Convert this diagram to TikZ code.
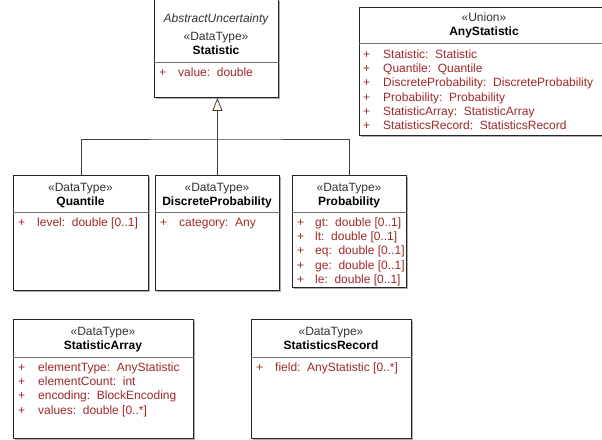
\documentclass[tikz,border=0pt]{standalone}
\usepackage{fontspec}
\setmainfont{Liberation Sans}
\usetikzlibrary{arrows.meta,shadows}

\definecolor{attrred}{RGB}{160,40,40}
\definecolor{genfill}{RGB}{255,248,228}

\begin{document}
\begin{tikzpicture}[x=1pt, y=-1pt,
        font=\fontsize{12}{14.3}\selectfont,
        classbox/.style={draw=black!85, line width=0.8pt, fill=white, anchor=north west, inner sep=0pt,
            drop shadow={shadow xshift=2pt, shadow yshift=-2pt, fill=black!40, opacity=0.8}},
        header/.style={anchor=north, inner sep=0pt, text=black!80},
        attrs/.style={anchor=north west, inner sep=0pt, text=attrred},
        divider/.style={draw=black!55, line width=0.8pt},
        assoc/.style={draw=black!75, line width=0.8pt},
        gen/.style={assoc, -{Triangle[width=10pt, length=13pt, fill=genfill]}}]

        \useasboundingbox (0,0) rectangle (602,439);

        % class boxes
        \node[classbox, minimum width=124pt, minimum height=98pt] (stat) at (154,-1) {};
        \node[classbox, minimum width=250pt, minimum height=128pt] (anyStat) at (359,7) {};
        \node[classbox, minimum width=135pt, minimum height=115pt] (quantile) at (13,175) {};
        \node[classbox, minimum width=124pt, minimum height=115pt] (discrete) at (155,175) {};
        \node[classbox, minimum width=114pt, minimum height=112pt] (prob) at (292,175) {};
        \node[classbox, minimum width=180pt, minimum height=119pt] (statArray) at (13,319) {};
        \node[classbox, minimum width=160pt, minimum height=119pt] (statRecord) at (251,319) {};

        % Statistic
        \node[header, anchor=base, font=\fontsize{12}{14.3}\selectfont\itshape] (statAbs) at (216,22) {AbstractUncertainty};
        \node[header] (statHead) at (216,30) {\begin{tabular}{@{}c@{}}«DataType»\\{\color{black}\textbf{Statistic}}\end{tabular}};
        \draw[divider] (stat.west |- 0,62) -- (stat.east |- 0,62);
        \node[attrs] (statAttr) at (159,66) {\begin{tabular}{@{}p{19pt}@{}l@{}}
            + & value:~~double\end{tabular}};

        % AnyStatistic
        \node[header] (anyHead) at (484,11) {\begin{tabular}{@{}c@{}}«Union»\\{\color{black}\textbf{AnyStatistic}}\end{tabular}};
        \draw[divider] (anyStat.west |- 0,43) -- (anyStat.east |- 0,43);
        \node[attrs] (anyAttr) at (363,48) {\begin{tabular}{@{}p{20pt}@{}l@{}}
            + & Statistic:~~Statistic\\
            + & Quantile:~~Quantile\\
            + & DiscreteProbability:~~DiscreteProbability\\
            + & Probability:~~Probability\\
            + & StatisticArray:~~StatisticArray\\
            + & StatisticsRecord:~~StatisticsRecord\end{tabular}};

        % Quantile
        \node[header] (quantileHead) at (80.5,181) {\begin{tabular}{@{}c@{}}«DataType»\\{\color{black}\textbf{Quantile}}\end{tabular}};
        \draw[divider] (quantile.west |- 0,212) -- (quantile.east |- 0,212);
        \node[attrs] (quantileAttr) at (18,216) {\begin{tabular}{@{}p{19pt}@{}l@{}}
            + & level:~~double [0..1]\end{tabular}};

        % DiscreteProbability
        \node[header] (discreteHead) at (217,181) {\begin{tabular}{@{}c@{}}«DataType»\\{\color{black}\textbf{DiscreteProbability}}\end{tabular}};
        \draw[divider] (discrete.west |- 0,212) -- (discrete.east |- 0,212);
        \node[attrs] (discreteAttr) at (160,216) {\begin{tabular}{@{}p{19pt}@{}l@{}}
            + & category:~~Any\end{tabular}};

        % Probability
        \node[header] (probHead) at (349,181) {\begin{tabular}{@{}c@{}}«DataType»\\{\color{black}\textbf{Probability}}\end{tabular}};
        \draw[divider] (prob.west |- 0,212) -- (prob.east |- 0,212);
        \node[attrs] (probAttr) at (297,216) {\begin{tabular}{@{}p{18pt}@{}l@{}}
            + & gt:~~double [0..1]\\
            + & lt:~~double [0..1]\\
            + & eq:~~double [0..1]\\
            + & ge:~~double [0..1]\\
            + & le:~~double [0..1]\end{tabular}};

        % StatisticArray
        \node[header] (statArrayHead) at (103,325) {\begin{tabular}{@{}c@{}}«DataType»\\{\color{black}\textbf{StatisticArray}}\end{tabular}};
        \draw[divider] (statArray.west |- 0,357) -- (statArray.east |- 0,357);
        \node[attrs] (statArrayAttr) at (18,361) {\begin{tabular}{@{}p{20pt}@{}l@{}}
            + & elementType:~~AnyStatistic\\
            + & elementCount:~~int\\
            + & encoding:~~BlockEncoding\\
            + & values:~~double [0..*]\end{tabular}};

        % StatisticsRecord
        \node[header] (statRecordHead) at (331,325) {\begin{tabular}{@{}c@{}}«DataType»\\{\color{black}\textbf{StatisticsRecord}}\end{tabular}};
        \draw[divider] (statRecord.west |- 0,357) -- (statRecord.east |- 0,357);
        \node[attrs] (statRecordAttr) at (256,361) {\begin{tabular}{@{}p{19pt}@{}l@{}}
            + & field:~~AnyStatistic [0..*]\end{tabular}};

        % generalisation
        \coordinate (junction) at (217,139);
        \draw[assoc] (quantile.north) |- (junction) -| (prob.north);
        \draw[gen] (discrete.north) -- (discrete.north |- stat.south);

    \end{tikzpicture}
\end{document}
